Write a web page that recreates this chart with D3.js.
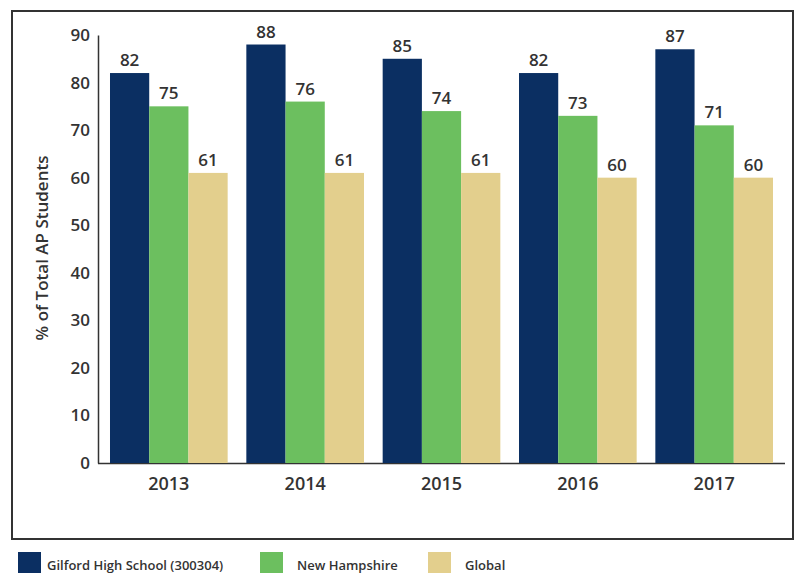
<!DOCTYPE html>
<html><head><meta charset="utf-8">
<script src="https://cdn.jsdelivr.net/npm/d3@7"></script>
<style>body{margin:0;background:#fff;} svg{display:block;font-family:"Open Sans",sans-serif;font-weight:600;}</style>
</head><body>
<svg id="c" width="797" height="573"></svg>
<script>
const years = ["2013","2014","2015","2016","2017"];
const seriesNames = ["Gilford High School (300304)","New Hampshire","Global"];
const gilford = [82,88,85,82,87];
const newHampshire = [75,76,74,73,71];
const global = [61,61,61,60,60];
const yTicks = [0,10,20,30,40,50,60,70,80,90];
const colors = ["#0b2f62","#6cbf5f","#e3cf8d"];

const svg = d3.select("#c");
const values = [gilford, newHampshire, global];

svg.append("rect").attr("x",12).attr("y",11).attr("width",781).attr("height",528)
  .attr("fill","#fff").attr("stroke","#333").attr("stroke-width",2);

const x0 = d3.scaleBand().domain(years).range([98,785]).paddingInner(0.137).paddingOuter(0.088);
const x1 = d3.scaleBand().domain(d3.range(3)).range([0,x0.bandwidth()]);
const y = d3.scaleLinear().domain([0,90]).range([463,35]);

// x axis line
svg.append("line").attr("x1",98).attr("x2",785).attr("y1",y(0)+0.5).attr("y2",y(0)+0.5).attr("stroke","#333").attr("stroke-width",1.5);

// y axis
const yAxis = svg.append("g").attr("transform","translate(98,0)")
  .call(d3.axisLeft(y).tickValues(yTicks).tickSize(0).tickPadding(8));
yAxis.select(".domain").attr("stroke","#333").attr("stroke-width",1.5);
yAxis.selectAll("text").attr("font-size",17).attr("fill","#333").attr("font-family","Open Sans").attr("font-weight",600);

// bars
const g = svg.append("g");
years.forEach((yr,i)=>{
  values.forEach((arr,s)=>{
    const bx = x0(yr)+x1(s);
    g.append("rect").attr("x",bx).attr("y",y(arr[i])).attr("width",x1.bandwidth()).attr("height",y(0)-y(arr[i])).attr("fill",colors[s]);
    g.append("text").attr("x",bx+x1.bandwidth()/2).attr("y",y(arr[i])-7).attr("text-anchor","middle")
      .attr("font-size",17).attr("fill","#333").text(arr[i]);
  });
});

// x labels
const xAxis = svg.append("g").attr("transform",`translate(0,${y(0)})`)
  .call(d3.axisBottom(x0).tickSize(0).tickPadding(14));
xAxis.select(".domain").remove();
xAxis.selectAll("text").attr("font-size",18).attr("fill","#333").attr("font-family","Open Sans").attr("font-weight",600);

// y title
svg.append("text").attr("transform","translate(48,248) rotate(-90)").attr("text-anchor","middle")
  .attr("font-size",17).attr("fill","#333").text("% of Total AP Students");

// legend
const legX = [18,260,428];
seriesNames.forEach((n,s)=>{
  svg.append("rect").attr("x",legX[s]).attr("y",552).attr("width",23).attr("height",24).attr("fill",colors[s]);
  svg.append("text").attr("x",legX[s]+(s===0?29:37)).attr("y",570).attr("font-size",13).attr("fill","#333").text(n);
});
</script>
</body></html>
